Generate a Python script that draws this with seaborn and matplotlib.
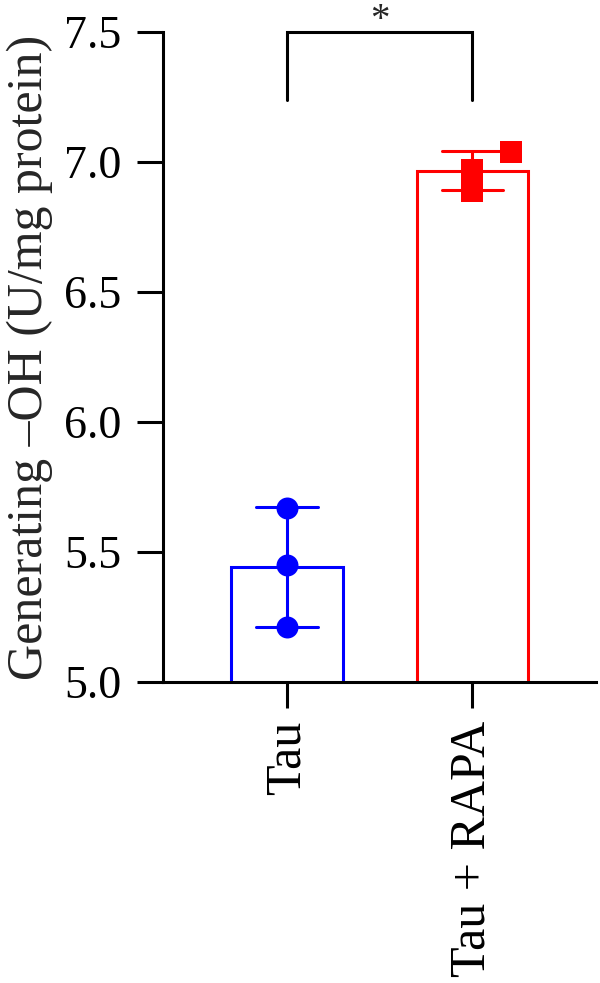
import matplotlib
matplotlib.use("Agg")
import matplotlib.pyplot as plt
import numpy as np
import pandas as pd
import seaborn as sns

# values
groups = ["Tau", "Tau + RAPA"]
tau_values = [5.67, 5.45, 5.21]
rapa_values = [7.04, 6.97, 6.89]
colors = {"Tau": "#0000FF", "Tau + RAPA": "#FF0000"}
markers = {"Tau": "o", "Tau + RAPA": "s"}
y_ticks = [5.0, 5.5, 6.0, 6.5, 7.0, 7.5]
y_label = "Generating \u2013OH (U/mg protein)"
sig_label = "*"

df = pd.DataFrame({
    "group": ["Tau"] * len(tau_values) + ["Tau + RAPA"] * len(rapa_values),
    "value": tau_values + rapa_values,
})


def scatter_x(values, center, min_gap=0.075, step=0.21):
    """GraphPad-like spreading: walk up from the lowest point, push a point
    sideways when it sits too close to the one below it."""
    order = np.argsort(values)
    xs = np.full(len(values), float(center))
    prev = None
    for i in order:
        if prev is not None and values[i] - values[prev] < min_gap and xs[prev] == center:
            xs[i] = center + step
        prev = i
    return xs


df["x"] = 0.0
for k, g in enumerate(groups):
    m = df["group"] == g
    df.loc[m, "x"] = scatter_x(df.loc[m, "value"].to_numpy(), k)

sns.set_style("ticks")
plt.rcParams["font.family"] = ["Liberation Serif", "DejaVu Serif"]

fig = plt.figure(figsize=(6.0, 9.83), dpi=100)
ax = fig.add_axes([0.2717, 0.3062, 0.7217, 0.6612])

lw = 2.2
for g in groups:
    sub = df[df["group"] == g]
    sns.barplot(
        data=sub, x="group", y="value", order=groups,
        errorbar="sd", capsize=0.33, width=0.6,
        fill=False, color=colors[g], linewidth=lw,
        err_kws={"color": colors[g], "linewidth": lw},
        ax=ax,
    )
for g in groups:
    sub = df[df["group"] == g]
    sns.scatterplot(
        data=sub, x="x", y="value", color=colors[g], marker=markers[g],
        s=250, linewidth=0, ax=ax, zorder=5, legend=False,
    )

ax.set_ylim(y_ticks[0], y_ticks[-1])
ax.set_xlim(-0.67, 1.67)
ax.set_yticks(y_ticks)
ax.set_yticklabels([f"{t:.1f}" for t in y_ticks])
ax.set_xticks(range(len(groups)))
ax.set_xticklabels(groups, rotation=90)
ax.set_xlabel("")
ax.set_ylabel(y_label, fontsize=36, labelpad=8)
ax.tick_params(axis="y", labelsize=33, length=19, width=lw, colors="black", pad=11)
ax.tick_params(axis="x", labelsize=36, length=19, width=lw, colors="black", pad=9)
for side in ["left", "bottom"]:
    ax.spines[side].set_linewidth(lw)
    ax.spines[side].set_color("black")
sns.despine(ax=ax)

# significance bracket
top, leg = 7.5, 7.24
ax.plot([0, 0, 1, 1], [leg, top, top, leg], color="black", lw=lw,
        clip_on=False, solid_joinstyle="miter")
ax.text(0.5, top + 0.006, sig_label, ha="center", va="baseline", fontsize=28,
        clip_on=False)

fig.savefig("out.png", dpi=100)
